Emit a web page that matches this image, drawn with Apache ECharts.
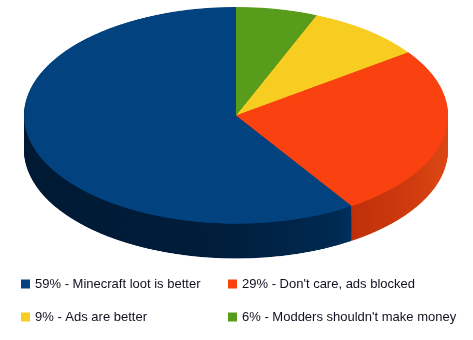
<!DOCTYPE html>
<html><head><meta charset="utf-8">
<script src="https://cdn.jsdelivr.net/npm/echarts@6/dist/echarts.min.js"></script>
<style>
html,body{margin:0;padding:0;background:#fff;width:473px;height:340px;overflow:hidden}
#pie{position:absolute;left:24px;top:7px;width:424px;height:494px;transform:scaleY(0.511);transform-origin:0 0}
#legend{position:absolute;left:0;top:0;width:473px;height:340px}
</style></head><body>
<div id="pie"></div><div id="legend"></div>
<script>
// Data
const categories = ['59% - Minecraft loot is better', "29% - Don't care, ads blocked", '9% - Ads are better', "6% - Modders shouldn't make money"];
const values = [59.2, 25.7, 8.9, 6.2];
const topColors = ['#02437f', '#f94210', '#f8cd21', '#589c1c'];
const leftColumn = [categories[0], categories[2]];
const rightColumn = [categories[1], categories[3]];

const R = 212, DEPTH_LAYERS = 34, STEP = 2;

function grad(stops) {
  return { type: 'linear', x: 0, y: 0, x2: 424, y2: 0, global: true,
    colorStops: stops.map(s => ({ offset: s[0], color: s[1] })) };
}
const sideColors = [
  grad([[0, '#001a34'], [0.45, '#001d3b'], [0.74, '#002a52'], [0.775, '#00315f']]),
  grad([[0.77, '#bf300a'], [0.9, '#cf3a0e'], [1, '#dc4814']]),
  '#c9a010',
  '#3f7412'
];

function pieSeries(offset, colors, name) {
  return {
    type: 'pie', name: name, radius: R, center: [R, R + offset],
    clockwise: false, startAngle: 90, silent: true, animation: false,
    label: { show: false }, labelLine: { show: false },
    emphasis: { disabled: true },
    itemStyle: { borderWidth: 0 },
    data: categories.map((c, i) => ({ name: c, value: values[i], itemStyle: { color: colors[i] } }))
  };
}
const series = [];
for (let k = DEPTH_LAYERS; k >= 1; k--) series.push(pieSeries(k * STEP, sideColors, 'side' + k));
series.push(pieSeries(0, topColors, 'top'));

const pie = echarts.init(document.getElementById('pie'), null, { renderer: 'canvas' });
pie.setOption({ animation: false, series: series });

const legendStyle = {
  orient: 'vertical', top: 277, padding: 0, itemGap: 19,
  itemWidth: 9, itemHeight: 9, icon: 'rect', selectedMode: false,
  textStyle: { fontFamily: 'Liberation Sans', fontSize: 13, color: '#111122', lineHeight: 14 }
};
const lg = echarts.init(document.getElementById('legend'));
lg.setOption({
  animation: false,
  legend: [
    Object.assign({ left: 21, data: leftColumn }, legendStyle),
    Object.assign({ left: 228, data: rightColumn }, legendStyle)
  ],
  series: [{
    type: 'pie', radius: 0, center: [-50, -50], silent: true,
    label: { show: false }, labelLine: { show: false },
    data: categories.map((c, i) => ({ name: c, value: values[i], itemStyle: { color: topColors[i] } }))
  }]
});
</script>
</body></html>
